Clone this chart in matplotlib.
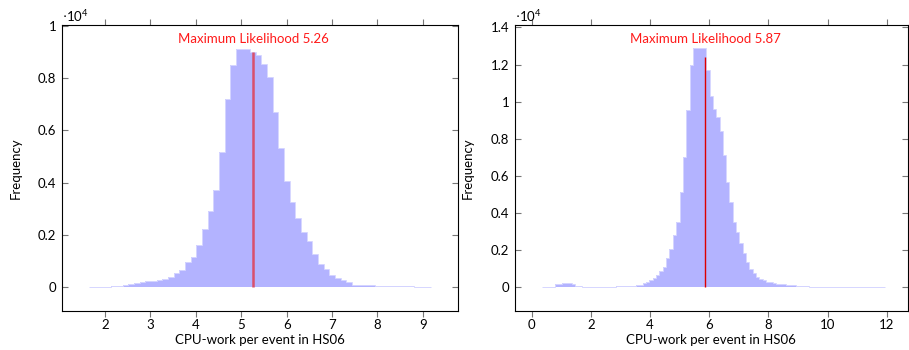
import numpy as np
import matplotlib
matplotlib.use("Agg")
import matplotlib.pyplot as plt

# ---------------- data (frequencies in units of 10^4) ----------------
# Left histogram: bin boundaries (segments) and frequencies
h1_left_range = (1.637, 4.887)      # 26 uniform bins
h1_peak_range = (4.887, 5.194)      # peak bin
h1_right_range = (5.194, 9.19)      # 32 uniform bins
h1_left_freq = [0.001, 0.001, 0.002, 0.002, 0.004, 0.006, 0.008, 0.011, 0.016, 0.021,
                0.024, 0.025, 0.029, 0.033, 0.041, 0.053, 0.066, 0.096, 0.117, 0.161,
                0.222, 0.292, 0.371, 0.517, 0.720, 0.850]
h1_peak_freq = [0.912]
h1_right_freq = [0.899, 0.888, 0.853, 0.805, 0.669, 0.531, 0.406, 0.327, 0.264, 0.210,
                 0.177, 0.127, 0.090, 0.070, 0.047, 0.037, 0.027, 0.019, 0.010, 0.008,
                 0.007, 0.007, 0.006, 0.006, 0.006, 0.005, 0.005, 0.005, 0.004, 0.003,
                 0.003, 0.002]
ml1 = 5.26
ml1_height = 0.899

# Right histogram
h2_left_range = (0.337, 5.45)       # 45 uniform bins
h2_peak_range = (5.45, 5.90)
h2_right_range = (5.90, 11.94)      # 54 uniform bins
h2_left_freq = [0.002, 0.003, 0.003, 0.004, 0.016, 0.016, 0.022, 0.022, 0.022, 0.016,
                0.007, 0.007, 0.003, 0.003, 0.003, 0.003, 0.003, 0.003, 0.003, 0.004,
                0.004, 0.004, 0.005, 0.005, 0.005, 0.005, 0.009, 0.009, 0.014, 0.014,
                0.022, 0.030, 0.039, 0.052, 0.066, 0.088, 0.108, 0.156, 0.206, 0.282,
                0.354, 0.515, 0.700, 0.955, 1.198]
h2_peak_freq = [1.288]
h2_right_freq = [1.171, 1.031, 0.961, 0.916, 0.844, 0.711, 0.569, 0.458, 0.354, 0.300,
                 0.237, 0.183, 0.138, 0.097, 0.075, 0.054, 0.043, 0.039, 0.030, 0.026,
                 0.022, 0.020, 0.018, 0.015, 0.014, 0.012, 0.010, 0.009, 0.008, 0.006,
                 0.005, 0.004, 0.003, 0.003, 0.003, 0.003, 0.003, 0.003, 0.003, 0.003,
                 0.003, 0.003, 0.002, 0.002, 0.002, 0.002, 0.002, 0.002, 0.002, 0.002,
                 0.002, 0.002, 0.002, 0.002]
ml2 = 5.87
ml2_height = 1.239

x1_ticks = [2, 3, 4, 5, 6, 7, 8, 9]
y1_ticks = [0, 0.2, 0.4, 0.6, 0.8, 1.0]
y1_labels = ["0", "0.2", "0.4", "0.6", "0.8", "1"]
x2_ticks = [0, 2, 4, 6, 8, 10, 12]
y2_ticks = [0, 0.2, 0.4, 0.6, 0.8, 1.0, 1.2, 1.4]
y2_labels = ["0", "0.2", "0.4", "0.6", "0.8", "1", "1.2", "1.4"]

xlabel = "CPU-work per event in HS06"
ylabel = "Frequency"

# ---------------- style ----------------
plt.rcParams['font.family'] = ['Lato', 'DejaVu Sans']
FILL = '#b3b3ff'
EDGE = '#d6d6ff'
FS = 9.5


def build_edges(lr, pr, rr, nl, nr):
    e = np.concatenate([np.linspace(lr[0], lr[1], nl + 1),
                        [pr[1]],
                        np.linspace(rr[0], rr[1], nr + 1)[1:]])
    return e


fig = plt.figure(figsize=(9.09, 3.5), dpi=100)
ax1 = fig.add_axes([0.0682, 0.1114, 0.4357, 0.8172])
ax2 = fig.add_axes([0.5666, 0.1114, 0.4318, 0.8172])


def draw(ax, lr, pr, rr, lf, pf, rf, ml, mlh, mlcolor, mllw,
         xt, yt, yl, xlim, ylim, label):
    freq = np.array(lf + pf + rf)
    edges = build_edges(lr, pr, rr, len(lf), len(rf))
    ax.stairs(freq, edges, fill=True, color=FILL, zorder=1)
    ax.stairs(freq, edges, fill=False, color=EDGE, lw=0.7, zorder=1.5, baseline=0)
    ax.plot([ml, ml], [0, mlh], color=mlcolor, lw=mllw, zorder=3,
            solid_capstyle='butt')
    ax.text(ml, ylim[1] - 0.05 * (ylim[1] - ylim[0]), label, color='#ff1a1a',
            ha='center', va='center', fontsize=FS)
    ax.set_xlim(*xlim)
    ax.set_ylim(*ylim)
    ax.set_xticks(xt)
    ax.set_xticklabels([str(t) for t in xt])
    ax.set_yticks(yt)
    ax.set_yticklabels(yl)
    ax.tick_params(axis='x', direction='out', length=4, color='#777777',
                   labelsize=FS, top=True, pad=2)
    ax.tick_params(axis='y', direction='in', length=4, color='#777777',
                   labelsize=FS, right=True, pad=4)
    for s in ax.spines.values():
        s.set_linewidth(0.8)
    ax.set_xlabel(xlabel, fontsize=FS, labelpad=2)
    ax.set_ylabel(ylabel, fontsize=FS, labelpad=12)
    ax.text(0.0, 1.005, r'$\cdot\mathregular{10}^{\mathregular{4}}$', transform=ax.transAxes,
            ha='left', va='bottom', fontsize=FS)


draw(ax1, h1_left_range, h1_peak_range, h1_right_range, h1_left_freq, h1_peak_freq,
     h1_right_freq, ml1, ml1_height, '#d9506c', 1.8, x1_ticks, y1_ticks, y1_labels,
     (1.053, 9.775), (-0.0906, 1.003), "Maximum Likelihood 5.26")
draw(ax2, h2_left_range, h2_peak_range, h2_right_range, h2_left_freq, h2_peak_freq,
     h2_right_freq, ml2, ml2_height, '#dd0000', 1.0, x2_ticks, y2_ticks, y2_labels,
     (-0.563, 12.70), (-0.128, 1.413), "Maximum Likelihood 5.87")

fig.savefig("out.png", dpi=100)
